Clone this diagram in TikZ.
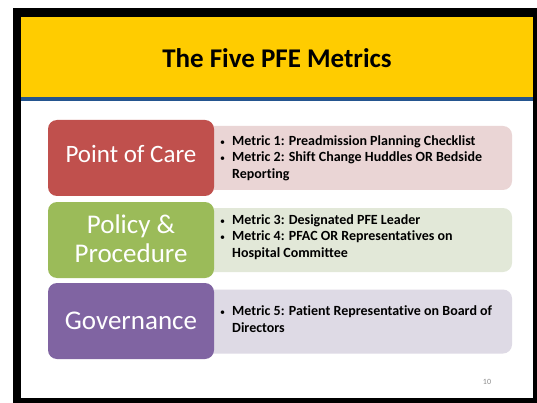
\documentclass[tikz,border=0pt]{standalone}
\usepackage{fontspec}
\setmainfont{Carlito}[Ligatures=NoCommon]
\usetikzlibrary{positioning}

\definecolor{slideyellow}{HTML}{FFCC00}
\definecolor{ruleblue}{HTML}{24558F}
\definecolor{careRed}{HTML}{C0504D}
\definecolor{careRedLight}{HTML}{EAD5D5}
\definecolor{policyGreen}{HTML}{9BBB59}
\definecolor{policyGreenLight}{HTML}{E2E8D8}
\definecolor{govPurple}{HTML}{8064A2}
\definecolor{govPurpleLight}{HTML}{DEDAE5}

\tikzset{
  leftbox/.style={rectangle, rounded corners=9pt, minimum width=166pt,
    minimum height=76pt, inner sep=0pt, draw=none},
  rightbox/.style={rectangle, rounded corners=9pt, minimum width=307pt,
    minimum height=64pt, inner sep=0pt, draw=none},
  lefttext/.style={text=white, align=center, inner sep=0pt,
    font=\fontsize{27}{29}\selectfont},
  metrictext/.style={anchor=west, inner sep=0pt, align=left,
    font=\fontsize{14}{16.5}\selectfont\bfseries},
  titletext/.style={inner sep=0pt, font=\fontsize{27}{30}\selectfont\bfseries},
  pagenum/.style={inner sep=0pt, text=black!45, font=\fontsize{8}{9}\selectfont}
}

% small bullet in front of each metric
\newcommand{\mbul}{{\fontsize{10}{10}\selectfont\mdseries\textbullet}}
\newcommand{\metriclist}[1]{%
  \begin{tabular}{@{}p{12pt}@{}l@{}}#1\end{tabular}}

\begin{document}
\begin{tikzpicture}[x=1pt, y=-1pt]
  \useasboundingbox (0,0) rectangle (537,403);
  \fill[white] (0,0) rectangle (537,403);

  % slide frame and title band
  \fill[black] (13,8) rectangle (537,403);
  \fill[white] (21,17) rectangle (533,398);
  \fill[slideyellow] (21,17) rectangle (533,97);
  \fill[ruleblue] (21,97) rectangle (533,101);
  \node[titletext] (title) at (277,58) {The Five PFE Metrics};

  % detail panels (drawn first, so the category boxes overlap them)
  \node[rightbox, fill=careRedLight]     (pocd) at (358.5,158) {};
  \node[rightbox, fill=policyGreenLight] (ppd)  at (358.5,240) {};
  \node[rightbox, fill=govPurpleLight]   (govd) at (358.5,321.5) {};

  % category boxes
  \node[leftbox, fill=careRed]     (poc) at (131,158) {};
  \node[leftbox, fill=policyGreen] (pp)  at (131,240) {};
  \node[leftbox, fill=govPurple]   (gov) at (131,321) {};

  \node[lefttext, font=\fontsize{25}{28}\selectfont] (poct)
    at ([yshift=4pt]poc.center) {Point of Care};
  \node[lefttext] (ppt)  at ([yshift=1pt]pp.center) {Policy \&\\Procedure};
  \node[lefttext] (govt) at (gov.center) {Governance};

  % metric lists
  \node[metrictext] (pocm) at (220,158.5) {\metriclist{%
    \mbul & Metric 1: Preadmission Planning Checklist\\
    \mbul & Metric 2: Shift Change Huddles OR Bedside\\
          & Reporting}};
  \node[metrictext] (ppm) at (220,237.5) {\metriclist{%
    \mbul & Metric 3: Designated PFE Leader\\
    \mbul & Metric 4: PFAC OR Representatives on\\
          & Hospital Committee}};
  \node[metrictext] (govm) at (220,320.5) {\metriclist{%
    \mbul & Metric 5: Patient Representative on Board of\\
          & Directors}};

  \node[pagenum] (page) at (487,382) {10};
\end{tikzpicture}
\end{document}
